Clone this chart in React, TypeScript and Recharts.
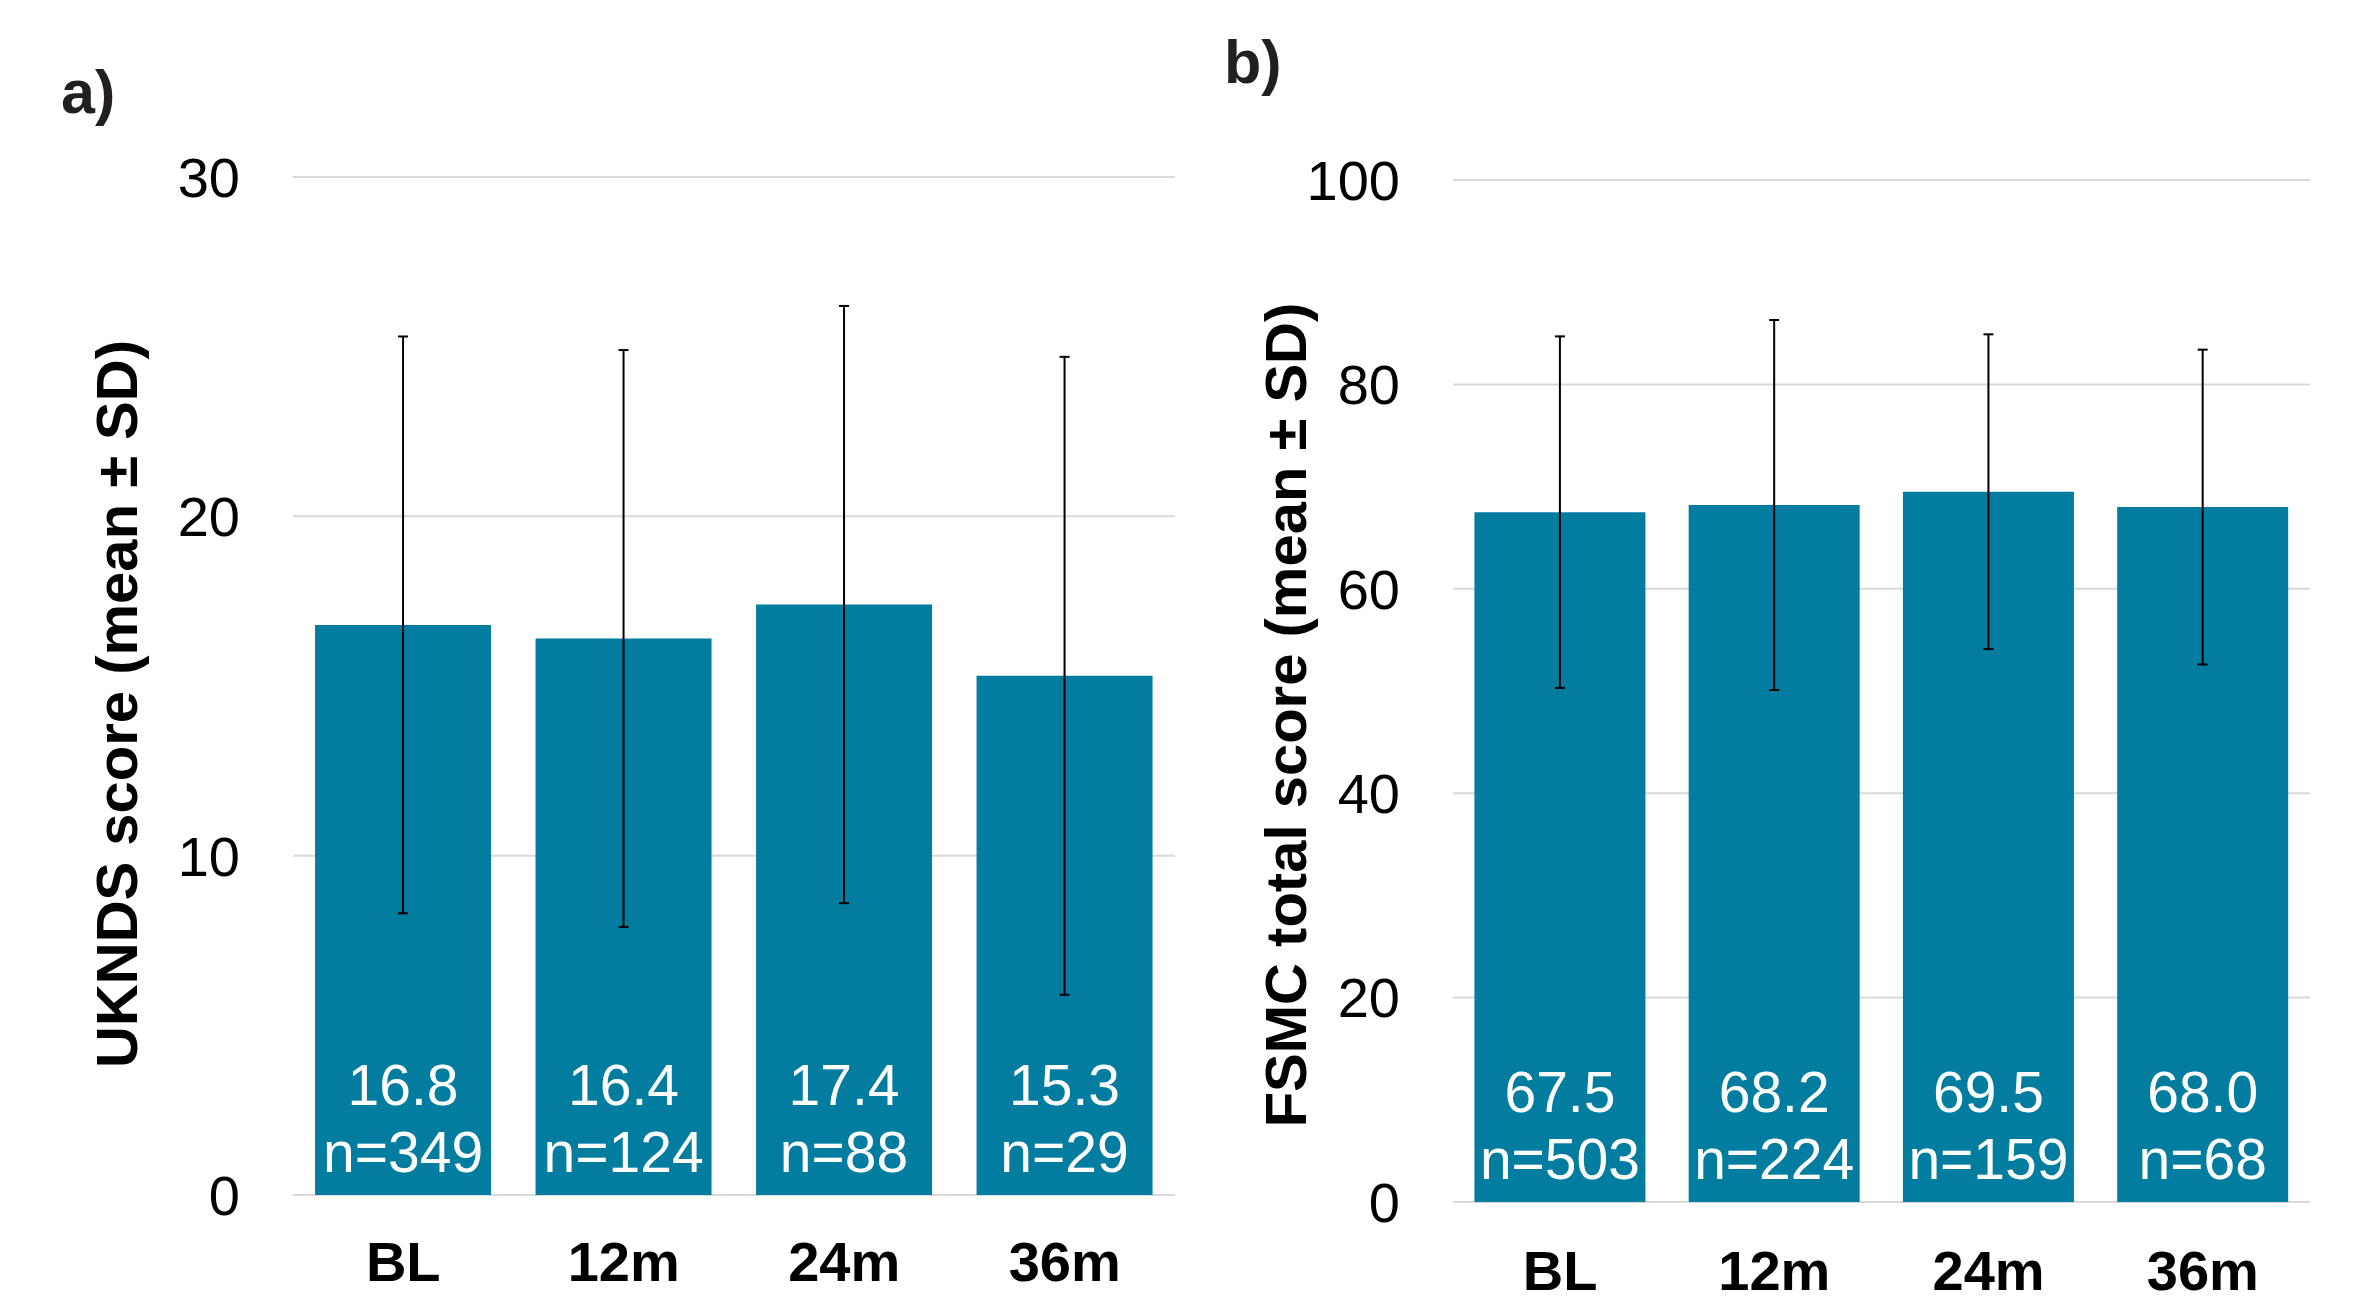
import React from 'react';
import { BarChart, Bar, XAxis, YAxis, CartesianGrid, ErrorBar, LabelList, Label } from 'recharts';

const timepoints = ['BL', '12m', '24m', '36m'];

const ukndsMean = [16.8, 16.4, 17.4, 15.3];
const ukndsSd = [8.5, 8.5, 8.8, 9.4];
const ukndsN = [349, 124, 88, 29];
const ukndsTicks = [0, 10, 20, 30];

const fsmcMean = [67.5, 68.2, 69.5, 68.0];
const fsmcSd = [17.2, 18.1, 15.4, 15.4];
const fsmcN = [503, 224, 159, 68];
const fsmcTicks = [0, 20, 40, 60, 80, 100];

const FONT = '"Liberation Sans", Arial, sans-serif';
const BAR_COLOR = '#027DA0';

const buildRows = (mean: number[], sd: number[], n: number[]) =>
  timepoints.map((time, i) => ({ time, mean: mean[i], sd: sd[i], nLabel: `n=${n[i]}` }));

// text drawn near the bottom of a bar, `offset` px above the bar's base
const bottomText = (offset: number, fmt: (v: any) => string) => (props: any) => {
  const { x, y, width, height, value } = props;
  return (
    <text
      x={x + width / 2}
      y={y + height - offset}
      textAnchor="middle"
      fill="#fff"
      fontSize={57}
      fontFamily={FONT}
    >
      {fmt(value)}
    </text>
  );
};

interface PanelProps {
  rows: ReturnType<typeof buildRows>;
  ticks: number[];
  title: string;
  width: number;
  margin: { top: number; right: number; bottom: number; left: number };
  yAxisWidth: number;
  xAxisHeight: number;
  xTickMargin: number;
  labelX: number;
  labelDy: number;
}

function Panel(p: PanelProps) {
  const max = p.ticks[p.ticks.length - 1];
  return (
    <BarChart width={p.width} height={1306} data={p.rows} margin={p.margin} barCategoryGap="10%">
      <CartesianGrid vertical={false} stroke="#D9D9D9" strokeWidth={2} />
      <XAxis
        dataKey="time"
        axisLine={false}
        tickLine={false}
        tickSize={0}
        tickMargin={p.xTickMargin}
        height={p.xAxisHeight}
        interval={0}
        tick={{ fill: '#000', fontSize: 56, fontWeight: 'bold', fontFamily: FONT }}
      />
      <YAxis
        domain={[0, max]}
        ticks={p.ticks}
        width={p.yAxisWidth}
        axisLine={false}
        tickLine={false}
        tickSize={0}
        tickMargin={53}
        tick={{ fill: '#000', fontSize: 56, fontFamily: FONT }}
      >
        <Label
          content={(lp: any) => {
            const vb = lp.viewBox;
            const cx = vb.x + p.labelX;
            const cy = vb.y + vb.height / 2 + p.labelDy;
            return (
              <text
                x={cx}
                y={cy}
                transform={`rotate(-90 ${cx} ${cy})`}
                textAnchor="middle"
                dominantBaseline="central"
                fontSize={58}
                fontWeight="bold"
                fontFamily={FONT}
                fill="#000"
              >
                {p.title}
              </text>
            );
          }}
        />
      </YAxis>
      <Bar dataKey="mean" fill={BAR_COLOR} isAnimationActive={false}>
        <ErrorBar dataKey="sd" width={5} stroke="#000" strokeWidth={2} />
        <LabelList dataKey="mean" content={bottomText(90, (v) => Number(v).toFixed(1))} />
        <LabelList dataKey="nLabel" content={bottomText(23, (v) => String(v))} />
      </Bar>
    </BarChart>
  );
}

export default function App() {
  return (
    <div
      style={{
        position: 'absolute',
        left: 0,
        top: 0,
        width: 2357,
        height: 1306,
        background: '#fff',
        overflow: 'hidden',
      }}
    >
      <div style={{ position: 'absolute', left: 0, top: 0 }}>
        <Panel
          rows={buildRows(ukndsMean, ukndsSd, ukndsN)}
          ticks={ukndsTicks}
          title="UKNDS score (mean ± SD)"
          width={1200}
          margin={{ top: 177, right: 25, bottom: 11, left: 0 }}
          yAxisWidth={293}
          xAxisHeight={100}
          xTickMargin={46}
          labelX={116}
          labelDy={18}
        />
      </div>
      <div style={{ position: 'absolute', left: 1180, top: 0 }}>
        <Panel
          rows={buildRows(fsmcMean, fsmcSd, fsmcN)}
          ticks={fsmcTicks}
          title="FSMC total score (mean ± SD)"
          width={1177}
          margin={{ top: 180, right: 47, bottom: 14, left: 0 }}
          yAxisWidth={273}
          xAxisHeight={90}
          xTickMargin={48}
          labelX={105}
          labelDy={24}
        />
      </div>
      <svg
        width={2357}
        height={1306}
        style={{ position: 'absolute', left: 0, top: 0, pointerEvents: 'none' }}
      >
        <text x={61} y={113} fontSize={61} fontWeight="bold" fontFamily={FONT} fill="#231F20">
          a)
        </text>
        <text x={1224} y={83} fontSize={61} fontWeight="bold" fontFamily={FONT} fill="#231F20">
          b)
        </text>
      </svg>
    </div>
  );
}
